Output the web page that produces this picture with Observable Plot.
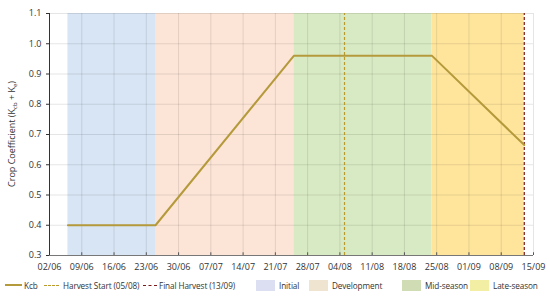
<!DOCTYPE html>
<html><head><meta charset="utf-8">
<script src="https://cdn.jsdelivr.net/npm/d3@7"></script>
<script src="https://cdn.jsdelivr.net/npm/@observablehq/plot@0.6"></script>
<style>
body{margin:0;background:#fff;font-family:"Open Sans",sans-serif;}
#wrap{position:relative;width:550px;height:297px;}
#legend{position:absolute;left:0;top:275px;width:550px;height:20px;font-size:8.2px;letter-spacing:-0.1px;color:#333;}
.li{position:absolute;top:0;display:flex;align-items:center;height:20px;white-space:nowrap;}
.sw{display:inline-block;width:19px;height:11px;margin-right:4px;}
.ln{display:inline-block;width:17px;height:0;margin-right:2px;}
#ylab{position:absolute;top:134px;transform:translate(0,-50%) rotate(-90deg);transform-origin:center;font-size:9px;color:#333;white-space:nowrap;}
</style></head>
<body><div id="wrap"><div id="chart"></div><div id="legend"></div></div>
<script>
const YEAR = "2023";
const stageNames = ["Initial", "Development", "Mid-season", "Late-season"];
const stageStarts = ["06/06", "25/06", "25/07", "24/08"];
const stageEnds = ["25/06", "25/07", "24/08", "13/09"];
const stageColors = ["#d8e5f4", "#fce5d7", "#d8eac3", "#ffe59c"];
const legendStageColors = ["#dcdff2", "#efe4cf", "#d0dcb4", "#f2eea3"];
const kcbDates = ["06/06", "25/06", "25/07", "24/08", "13/09"];
const kcbValues = [0.40, 0.40, 0.96, 0.96, 0.665];
const harvestStart = "05/08";
const finalHarvest = "13/09";
const tickLabels = ["02/06","09/06","16/06","23/06","30/06","07/07","14/07","21/07","28/07","04/08","11/08","18/08","25/08","01/09","08/09","15/09"];
const yTicks = [0.3,0.4,0.5,0.6,0.7,0.8,0.9,1.0,1.1];

const parse = s => d3.utcParse("%d/%m/%Y")(s + "/" + YEAR);
const fmt = d3.utcFormat("%d/%m");
const stages = stageNames.map((n,i)=>({name:n, x1:parse(stageStarts[i]), x2:parse(stageEnds[i]), color:stageColors[i]}));
const kcb = kcbDates.map((d,i)=>({date:parse(d), v:kcbValues[i]}));
const xTicks = tickLabels.map(parse);

const chart = Plot.plot({
  width: 550, height: 276,
  marginLeft: 49, marginRight: 17, marginTop: 13, marginBottom: 21,
  style: {fontFamily: '"Open Sans", sans-serif', fontSize: "9px", color: "#333"},
  x: {type: "utc", domain: [xTicks[0], xTicks[xTicks.length-1]]},
  y: {type: "linear", domain: [0.3, 1.1]},
  marks: [
    Plot.rectY(stages, {x1: "x1", x2: "x2", y1: () => 0.3, y2: () => 1.1, fill: "color"}),
    Plot.gridX(xTicks, {stroke: "#000", strokeOpacity: 0.1}),
    Plot.gridY(yTicks, {stroke: "#000", strokeOpacity: 0.1}),
    Plot.ruleX([parse(harvestStart)], {y1: () => 0.3, y2: () => 1.1, stroke: "#b89a2e", strokeWidth: 1.2, strokeDasharray: "3,2"}),
    Plot.ruleX([parse(finalHarvest)], {y1: () => 0.3, y2: () => 1.1, stroke: "#7a1a1a", strokeWidth: 1.2, strokeDasharray: "3,2"}),
    Plot.line(kcb, {x: "date", y: "v", stroke: "#b59a3c", strokeWidth: 2}),
    Plot.axisY({ticks: yTicks, tickFormat: d3.format(".1f"), label: null, tickSize: 3, tickPadding: 5}),
    Plot.axisX({ticks: xTicks, tickFormat: fmt, label: null, tickSize: 0, tickPadding: 8}),
    Plot.ruleX(xTicks, {y1: () => 0.3, y2: () => 0.309, stroke: "#555", strokeWidth: 1}),
    Plot.ruleY([0.3], {stroke: "#777", strokeWidth: 1.2}),
    Plot.ruleX([xTicks[0]], {y1: () => 0.3, y2: () => 1.1, stroke: "#333", strokeWidth: 1})
  ]
});
document.getElementById("chart").appendChild(chart);

const yl = document.createElement("div");
yl.id = "ylab";
yl.innerHTML = 'Crop Coefficient (K<sub style="font-size:6px">cb</sub> + K<sub style="font-size:6px">e</sub>)';
document.getElementById("wrap").appendChild(yl);
yl.style.left = (12 - yl.offsetWidth / 2) + "px";

const leg = document.getElementById("legend");
const items = [
  {x:5, html:'<span class="ln" style="border-top:2px solid #b59a3c"></span>Kcb'},
  {x:44, html:'<span class="ln" style="border-top:1.2px dashed #b89a2e;width:15px;margin-right:4px"></span>Harvest Start (05/08)'},
  {x:143, html:'<span class="ln" style="border-top:1.2px dashed #7a1a1a;width:14px;margin-right:2px"></span>Final Harvest (13/09)'},
];
stageNames.forEach((n,i)=>{
  const xs=[256,309,402,470];
  items.push({x:xs[i], html:`<span class="sw" style="background:${legendStageColors[i]}"></span>${n}`});
});
items.forEach(it=>{
  const d=document.createElement("div"); d.className="li"; d.style.left=it.x+"px"; d.innerHTML=it.html; leg.appendChild(d);
});
</script></body></html>
